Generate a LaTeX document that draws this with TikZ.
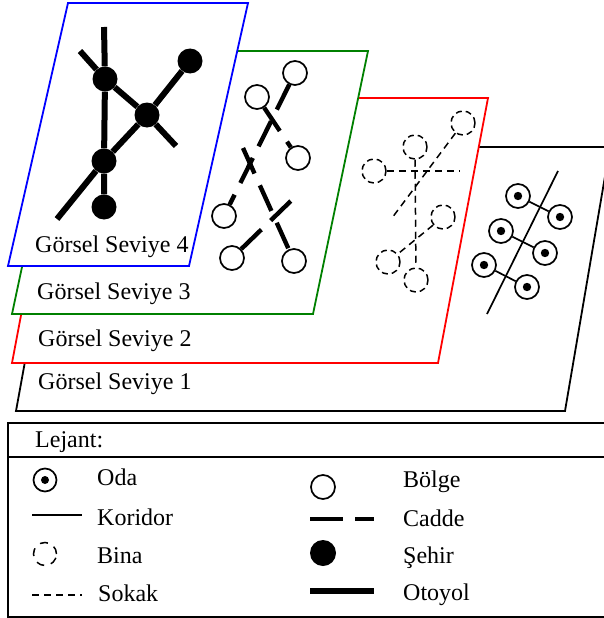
\documentclass[tikz,border=0pt]{standalone}
\usepackage{fontspec}
\setmainfont{Liberation Serif}
\definecolor{seviyeyesil}{RGB}{0,128,0}
\tikzset{
  seviye/.style={line width=1.8pt, fill=white, line join=miter},
  etiket/.style={anchor=base west, inner sep=0pt},
  sehir/.style={circle, fill=black, minimum size=25pt, inner sep=0pt},
  bolge/.style={circle, draw, line width=1.7pt, fill=white, minimum size=24pt, inner sep=0pt},
  bina/.style={circle, draw, line width=1.5pt, dash pattern=on 6pt off 4pt, minimum size=24pt, inner sep=0pt},
  oda/.style={circle, draw, line width=1.7pt, minimum size=24pt, inner sep=0pt,
    path picture={\fill (path picture bounding box.center) circle (4.2pt);}},
  otoyol/.style={line width=6pt},
  cadde/.style={line width=4.4pt, dash pattern=on 28pt off 13pt},
  sokak/.style={line width=1.5pt, dash pattern=on 7pt off 5pt},
  koridor/.style={line width=1.7pt}
}
\begin{document}
\begin{tikzpicture}[x=1pt, y=-1pt, font=\fontsize{24}{29}\selectfont]
			\useasboundingbox (0,0) rectangle (604,618);
			\clip (0,0) rectangle (604,618);
			
			%%%%% SEVIYE 1 %%%%%
			\draw[seviye, draw=black] (64,147) -- (610,147) -- (565,411) -- (16,411) -- cycle;
			\node[etiket] (lbl1) at (38,389) {Görsel Seviye 1};
			
			\coordinate (k1) at (558,171);
			\coordinate (k2) at (487,314);
			\draw[koridor] (k1) -- (k2);
			\node[oda] (r1) at (518,196) {};
			\node[oda] (r2) at (560,217) {};
			\node[oda] (r3) at (501,231) {};
			\node[oda] (r4) at (545,253) {};
			\node[oda] (r5) at (484,265) {};
			\node[oda] (r6) at (527,287) {};
			\draw[koridor] (r1) -- (r2);
			\draw[koridor] (r3) -- (r4);
			\draw[koridor] (r5) -- (r6);
			
			%%%%% SEVIYE 2 %%%%%
			\draw[seviye, draw=red] (62,98) -- (488,98) -- (438,363) -- (12,363) -- cycle;
			\node[etiket] (lbl2) at (38,346) {Görsel Seviye 2};
			
			\node[bina] (b1) at (463,123) {};
			\node[bina] (b2) at (415,147) {};
			\node[bina] (b3) at (374,171) {};
			\node[bina] (b4) at (443,217) {};
			\node[bina] (b5) at (388,262) {};
			\node[bina] (b6) at (416,280) {};
			\coordinate (s1) at (460,171);
			\coordinate (s2) at (392,218);
			\draw[sokak] (b3) -- (s1);
			\draw[sokak] (b2) -- (b6);
			\draw[sokak] (b1) -- (s2);
			\draw[sokak] (b4) -- (b5);
			
			%%%%% SEVIYE 3 %%%%%
			\draw[seviye, draw=seviyeyesil] (68,51) -- (368,51) -- (313,314) -- (12,314) -- cycle;
			\node[etiket] (lbl3) at (37,299) {Görsel Seviye 3};
			
			\node[bolge] (g1) at (295,73) {};
			\node[bolge] (g2) at (257,97) {};
			\node[bolge] (g3) at (298,158) {};
			\node[bolge] (g4) at (224,216) {};
			\node[bolge] (g5) at (232,258) {};
			\node[bolge] (g6) at (294,261) {};
			\coordinate (c1) at (243,148);
			\coordinate (c2) at (297,195);
			\draw[cadde] (g1) -- (g4);
			\draw[cadde] (g2) -- (g3);
			\draw[cadde] (c1) -- (g6);
			\draw[cadde] (g5) -- (c2);
			
			%%%%% SEVIYE 4 %%%%%
			\draw[seviye, draw=blue] (68,3) -- (248,3) -- (189,266) -- (8,266) -- cycle;
			\node[etiket] (lbl4) at (35,252) {Görsel Seviye 4};
			
			\node[sehir] (h1) at (105,79) {};
			\node[sehir] (h2) at (190,61) {};
			\node[sehir] (h3) at (147,115) {};
			\node[sehir] (h4) at (104,161) {};
			\node[sehir] (h5) at (104,207) {};
			\coordinate (o1) at (104,27);
			\coordinate (o2) at (80,51);
			\coordinate (o3) at (176,146);
			\coordinate (o4) at (57,219);
			\draw[otoyol] (o1) -- (h1) -- (h4) -- (h5);
			\draw[otoyol] (o2) -- (h1) -- (h3) -- (o3);
			\draw[otoyol] (o4) -- (h4) -- (h3) -- (h2);
			
			%%%%% LEJANT %%%%%
			\draw[line width=1.8pt] (8,423) rectangle (620,617);
			\draw[line width=1.8pt] (8,457) -- (620,457);
			\node[etiket] (lejant) at (35,447) {Lejant:};
			
			\node[oda, minimum size=23pt, path picture={\fill (path picture bounding box.center) circle (4pt);}] (lo) at (45,480) {};
			\node[etiket] at (97,485) {Oda};
			\coordinate (lk1) at (32,515);
			\coordinate (lk2) at (82,515);
			\draw[koridor] (lk1) -- (lk2);
			\node[etiket] at (97,525) {Koridor};
			\node[bina, minimum size=23pt, dash pattern=on 8pt off 7pt] (lb) at (45,554) {};
			\node[etiket] at (97,563) {Bina};
			\coordinate (ls1) at (32,595);
			\coordinate (ls2) at (82,595);
			\draw[sokak] (ls1) -- (ls2);
			\node[etiket] at (98,601) {Sokak};
			
			\node[bolge, minimum size=24pt] (lg) at (323,487) {};
			\node[etiket] at (403,487) {Bölge};
			\coordinate (lc1) at (310,519);
			\coordinate (lc2) at (374,519);
			\draw[line width=4.4pt, dash pattern=on 33pt off 12pt] (lc1) -- (lc2);
			\node[etiket] at (403,526) {Cadde};
			\node[sehir, minimum size=26pt] (lh) at (323,553) {};
			\node[etiket] at (403,563) {Şehir};
			\coordinate (lo1) at (310,591);
			\coordinate (lo2) at (374,591);
			\draw[otoyol] (lo1) -- (lo2);
			\node[etiket] at (403,600) {Otoyol};
		\end{tikzpicture}
\end{document}
